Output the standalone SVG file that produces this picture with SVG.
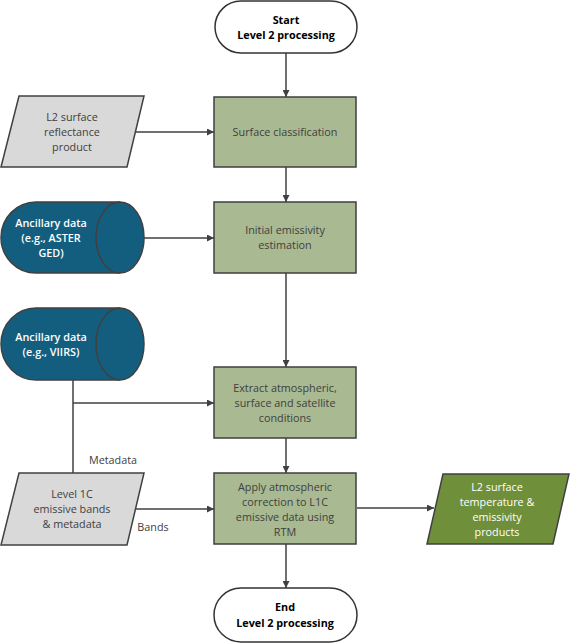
<svg xmlns="http://www.w3.org/2000/svg" width="570" height="643" viewBox="0 0 570 643">
<style>
text{font-family:"Open Sans","Liberation Sans",sans-serif;font-size:10.8px;text-anchor:middle;fill:#404040}
.b{font-weight:bold;fill:#000}
.w{fill:#fff}
.s{font-weight:600}
.term{fill:#fff;stroke:#333;stroke-width:1.5}
.proc{fill:#a9b991;stroke:#3f3f3f;stroke-width:1.5}
.gray{fill:#d9d9d9;stroke:#404040;stroke-width:1.5}
.cyl{fill:#135e7e;stroke:#404040;stroke-width:1.5}
.out{fill:#6f8f3a;stroke:#404040;stroke-width:1.5}
.c{fill:none;stroke:#404040;stroke-width:1.5}
</style>
<defs>
<marker id="ah" viewBox="0 0 10 10" refX="10" refY="5" markerWidth="7" markerHeight="7" markerUnits="userSpaceOnUse" orient="auto">
<path d="M0,0L10,5L0,10z" fill="#404040"/>
</marker>
</defs>
<g id="connectors">
<path class="c" d="M286,53V97" marker-end="url(#ah)"/>
<path class="c" d="M286,167V202" marker-end="url(#ah)"/>
<path class="c" d="M286,273V367" marker-end="url(#ah)"/>
<path class="c" d="M286,438V473" marker-end="url(#ah)"/>
<path class="c" d="M286,544V588" marker-end="url(#ah)"/>
<path class="c" d="M136,132H214" marker-end="url(#ah)"/>
<path class="c" d="M144,238H214" marker-end="url(#ah)"/>
<path class="c" d="M73,380V473"/>
<path class="c" d="M73,403H214" marker-end="url(#ah)"/>
<path class="c" d="M136,509H214" marker-end="url(#ah)"/>
<path class="c" d="M357,508H434" marker-end="url(#ah)"/>
<text x="113" y="464">Metadata</text>
<text x="153" y="531">Bands</text>
</g>
<g id="start">
<rect class="term" x="215" y="1" width="142" height="52" rx="26"/>
<text class="b" x="286" y="24">Start</text>
<text class="b" x="286" y="39">Level 2 processing</text>
</g>
<g id="surface-classification">
<rect class="proc" x="214" y="97" width="142" height="70"/>
<text x="285" y="136">Surface classification</text>
</g>
<g id="initial-emissivity">
<rect class="proc" x="214" y="202" width="142" height="71"/>
<text x="285" y="234">Initial emissivity</text>
<text x="285" y="249">estimation</text>
</g>
<g id="extract">
<rect class="proc" x="214" y="367" width="142" height="71"/>
<text x="285" y="392">Extract atmospheric,</text>
<text x="285" y="407">surface and satellite</text>
<text x="285" y="422">conditions</text>
</g>
<g id="apply">
<rect class="proc" x="214" y="473" width="142" height="71"/>
<text x="285" y="491">Apply atmospheric</text>
<text x="285" y="506">correction to L1C</text>
<text x="285" y="521">emissive data using</text>
<text x="285" y="536">RTM</text>
</g>
<g id="end">
<rect class="term" x="214" y="588" width="143" height="54" rx="27"/>
<text class="b" x="285" y="611">End</text>
<text class="b" x="285" y="627">Level 2 processing</text>
</g>
<g id="l2-reflectance">
<polygon class="gray" points="19,96 144,96 127,167 1,167"/>
<text x="72" y="121">L2 surface</text>
<text x="72" y="136">reflectance</text>
<text x="72" y="151">product</text>
</g>
<g id="ancillary-aster">
<path class="cyl" d="M36,202H120A24,35.5 0 0 1 120,273H36A35,35.5 0 0 1 36,202Z"/>
<path class="cyl" d="M120,202A24,35.5 0 0 0 120,273"/>
<text class="w s" x="51" y="227">Ancillary data</text>
<text class="w s" x="51" y="242">(e.g., ASTER</text>
<text class="w s" x="51" y="257">GED)</text>
</g>
<g id="ancillary-viirs">
<path class="cyl" d="M36,308H120A24,36 0 0 1 120,380H36A35,36 0 0 1 36,308Z"/>
<path class="cyl" d="M120,308A24,36 0 0 0 120,380"/>
<text class="w s" x="51" y="341">Ancillary data</text>
<text class="w s" x="51" y="356">(e.g., VIIRS)</text>
</g>
<g id="level1c">
<polygon class="gray" points="19,473 144,473 127,545 1,545"/>
<text x="72" y="498">Level 1C</text>
<text x="72" y="513">emissive bands</text>
<text x="72" y="528">&amp; metadata</text>
</g>
<g id="l2-output">
<polygon class="out" points="443,474 569,474 553,544 427,544"/>
<text class="w" x="497" y="491">L2 surface</text>
<text class="w" x="497" y="506">temperature &amp;</text>
<text class="w" x="497" y="521">emissivity</text>
<text class="w" x="497" y="536">products</text>
</g>
</svg>
